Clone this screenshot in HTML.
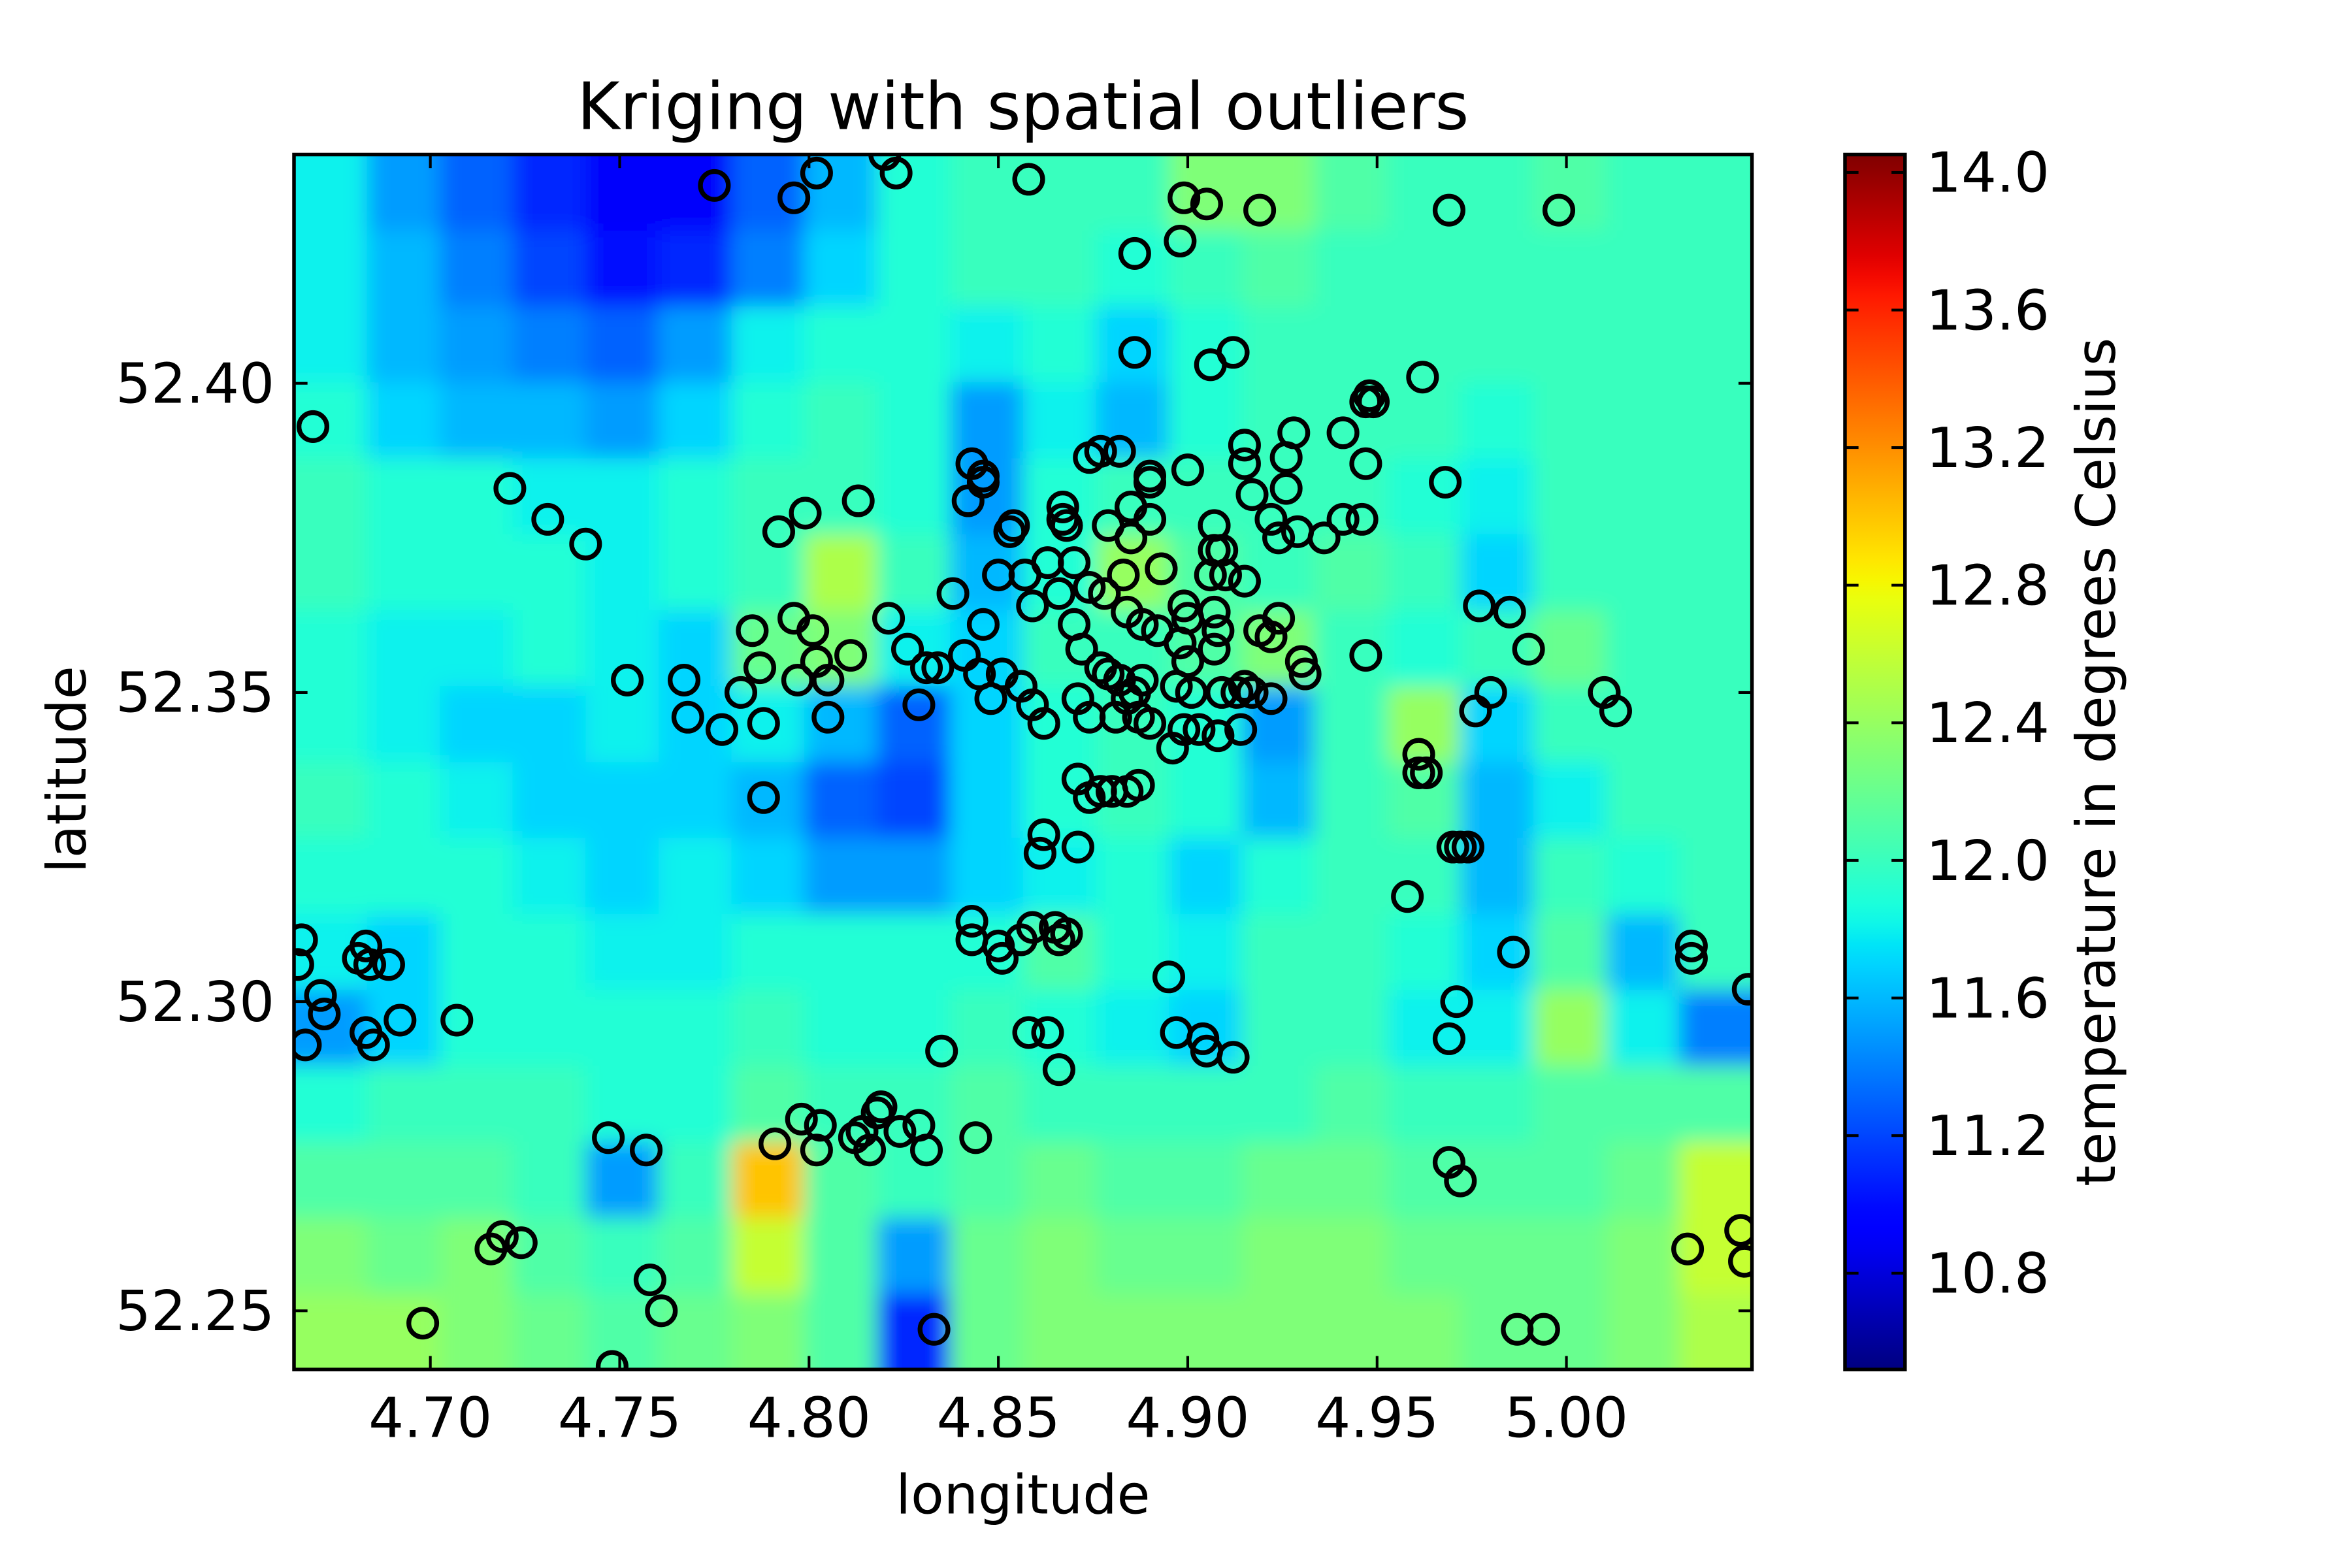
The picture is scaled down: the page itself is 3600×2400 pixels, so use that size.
<!DOCTYPE html>
<html><head><meta charset="utf-8">
<style>
html,body{margin:0;padding:0;background:#fff;}
svg{display:block;font-family:"DejaVu Sans","Liberation Sans",sans-serif;}
</style></head>
<body>
<svg id="chart" width="3600" height="2400" viewBox="0 0 1568 1045.3" xmlns="http://www.w3.org/2000/svg">
<defs>
<clipPath id="plotClip"><rect x="196" y="103" width="972" height="810"/></clipPath>
<filter id="blur" x="-10%" y="-10%" width="120%" height="120%"><feGaussianBlur stdDeviation="7"/></filter>
<linearGradient id="jetGrad" x1="0" y1="1" x2="0" y2="0"></linearGradient>
</defs>
<rect x="0" y="0" width="1568" height="1045.3" fill="#fff"/>
<g id="heat" clip-path="url(#plotClip)"><g id="heatInner" filter="url(#blur)"></g></g>
<g id="points" clip-path="url(#plotClip)"></g>
<rect x="196" y="103" width="972" height="810" fill="none" stroke="#000" stroke-width="2.4"/>
<g id="axes"></g>
<text x="682" y="86" font-size="43.5" text-anchor="middle">Kriging with spatial outliers</text>
<text x="682" y="1009" font-size="36" text-anchor="middle">longitude</text>
<text x="57" y="513" font-size="36" text-anchor="middle" transform="rotate(-90 57 513)">latitude</text>
<rect x="1230" y="103" width="40" height="810" fill="url(#jetGrad)" stroke="#000" stroke-width="2.4"/>
<g id="cbaxis"></g>
<text x="1410" y="508" font-size="36" text-anchor="middle" transform="rotate(-90 1410 508)">temperature in degrees Celsius</text>
</svg>
<script>
const gridVals = [
[11.8,11.5,11.3,11.1,10.9,10.9,11.3,11.6,11.9,12.0,12.0,12.0,12.3,12.3,12.1,12.0,12.0,12.1,12.0,12.0],
[11.8,11.6,11.4,11.2,11.0,11.1,11.4,11.7,11.9,12.0,12.0,11.9,12.0,12.1,12.0,12.0,12.0,12.0,12.0,12.0],
[11.8,11.6,11.5,11.4,11.3,11.5,11.8,11.9,11.9,11.8,11.9,11.7,11.9,12.0,12.0,12.0,12.0,12.0,12.0,12.0],
[11.9,11.7,11.6,11.6,11.5,11.7,11.9,12.0,11.9,11.5,11.8,11.6,11.9,12.0,12.0,12.0,11.9,12.0,12.0,12.0],
[12.0,11.9,11.9,11.8,11.8,11.9,12.0,12.0,11.9,11.5,11.9,12.0,12.0,12.0,12.0,11.9,11.8,12.0,12.0,12.0],
[12.0,11.9,11.9,11.9,11.8,11.9,12.0,12.5,12.0,11.6,11.9,12.4,12.1,12.0,12.1,12.0,11.7,12.0,12.0,12.0],
[11.9,11.8,11.8,11.9,11.8,11.7,12.2,12.3,11.8,11.7,12.0,12.0,12.1,12.3,12.0,11.9,12.0,12.2,12.0,12.0],
[11.9,11.8,11.7,11.7,11.8,11.7,11.8,11.6,11.3,11.7,11.9,12.0,11.9,11.5,12.0,12.4,11.7,12.0,12.0,12.0],
[12.0,11.9,11.8,11.7,11.7,11.7,11.6,11.3,11.2,11.7,11.9,12.0,11.9,11.6,12.0,12.1,11.6,11.8,12.0,12.0],
[11.9,11.9,11.9,11.8,11.7,11.8,11.7,11.5,11.5,11.7,11.8,11.9,11.7,11.9,12.0,12.0,11.6,12.0,11.9,12.0],
[11.8,11.7,11.9,11.9,11.8,11.8,11.9,11.9,11.9,11.9,12.1,11.9,11.8,12.0,12.0,11.9,11.7,12.1,11.6,12.0],
[11.5,11.7,11.9,11.9,11.9,11.9,12.0,11.9,11.9,12.0,11.9,11.8,11.7,12.0,12.0,11.8,11.8,12.4,11.8,11.4],
[11.9,12.0,12.0,12.0,11.9,11.9,12.1,12.0,12.0,12.1,12.0,12.0,12.0,12.0,12.1,12.0,12.0,12.1,12.1,12.1],
[12.1,12.1,12.1,12.0,11.5,12.0,13.0,12.1,12.0,12.1,12.2,12.1,12.1,12.2,12.2,12.1,12.1,12.1,12.2,12.6],
[12.3,12.2,12.3,12.1,12.0,12.1,12.6,12.1,11.5,12.2,12.3,12.2,12.2,12.3,12.3,12.2,12.2,12.2,12.3,12.6],
[12.4,12.4,12.3,12.2,12.1,12.2,12.3,12.1,11.1,12.2,12.3,12.3,12.3,12.3,12.3,12.3,12.2,12.2,12.3,12.5]
];
const lons = [4.775,4.796,4.802,4.820,4.823,4.858,4.899,4.905,4.919,4.969,4.998,4.886,4.898,4.886,4.906,4.912,4.948,4.947,4.949,4.962,4.941,4.669,4.721,4.731,4.741,4.792,4.799,4.813,4.843,4.846,4.846,4.842,4.854,4.853,4.867,4.867,4.868,4.874,4.877,4.882,4.890,4.890,4.900,4.885,4.879,4.885,4.890,4.907,4.907,4.909,4.906,4.893,4.915,4.915,4.917,4.926,4.926,4.928,4.929,4.936,4.941,4.946,4.947,4.968,4.922,4.924,4.838,4.850,4.857,4.859,4.863,4.870,4.866,4.874,4.878,4.883,4.893,4.910,4.915,4.796,4.801,4.785,4.797,4.802,4.805,4.805,4.811,4.821,4.826,4.831,4.829,4.834,4.846,4.841,4.845,4.848,4.851,4.856,4.859,4.862,4.871,4.874,4.881,4.887,4.870,4.872,4.877,4.879,4.882,4.886,4.888,4.884,4.890,4.884,4.888,4.892,4.899,4.900,4.898,4.900,4.897,4.901,4.907,4.908,4.907,4.909,4.913,4.915,4.917,4.919,4.924,4.922,4.930,4.931,4.896,4.899,4.903,4.908,4.914,4.922,4.947,4.961,4.961,4.963,4.976,4.980,4.990,5.010,5.013,4.977,4.985,4.767,4.768,4.752,4.777,4.782,4.787,4.788,4.788,4.871,4.874,4.877,4.880,4.884,4.887,4.862,4.861,4.871,4.970,4.972,4.974,4.958,4.843,4.843,4.850,4.851,4.856,4.859,4.865,4.866,4.868,4.895,4.897,4.904,4.905,4.912,4.835,4.858,4.863,4.866,4.971,4.969,4.986,5.033,5.033,5.048,4.666,4.665,4.681,4.683,4.684,4.689,4.671,4.672,4.667,4.683,4.685,4.692,4.707,4.747,4.757,4.791,4.798,4.803,4.802,4.812,4.814,4.816,4.818,4.819,4.824,4.829,4.831,4.844,4.969,4.972,4.716,4.719,4.724,4.758,4.761,4.698,4.748,4.833,5.032,5.046,5.047,4.987,4.994];
const lats = [52.432,52.430,52.434,52.437,52.434,52.433,52.430,52.429,52.428,52.428,52.428,52.421,52.423,52.405,52.403,52.405,52.398,52.397,52.397,52.401,52.392,52.393,52.383,52.378,52.374,52.376,52.379,52.381,52.387,52.384,52.385,52.381,52.377,52.376,52.380,52.378,52.377,52.388,52.389,52.389,52.385,52.384,52.386,52.380,52.377,52.375,52.378,52.377,52.373,52.373,52.369,52.370,52.390,52.387,52.382,52.388,52.383,52.392,52.376,52.375,52.378,52.378,52.387,52.384,52.378,52.375,52.366,52.369,52.369,52.364,52.371,52.371,52.366,52.367,52.366,52.369,52.370,52.369,52.368,52.362,52.360,52.360,52.352,52.355,52.352,52.346,52.356,52.362,52.357,52.354,52.348,52.354,52.361,52.356,52.353,52.349,52.353,52.351,52.348,52.345,52.349,52.346,52.346,52.346,52.361,52.357,52.354,52.353,52.352,52.350,52.352,52.349,52.345,52.363,52.361,52.360,52.364,52.362,52.358,52.355,52.351,52.350,52.363,52.360,52.357,52.350,52.350,52.351,52.350,52.360,52.362,52.359,52.355,52.353,52.341,52.344,52.344,52.343,52.344,52.349,52.356,52.340,52.337,52.337,52.347,52.350,52.357,52.350,52.347,52.364,52.363,52.352,52.346,52.352,52.344,52.350,52.354,52.345,52.333,52.336,52.333,52.334,52.334,52.334,52.335,52.327,52.324,52.325,52.325,52.325,52.325,52.317,52.313,52.310,52.309,52.307,52.310,52.312,52.312,52.310,52.311,52.304,52.295,52.294,52.292,52.291,52.292,52.295,52.295,52.289,52.300,52.294,52.308,52.309,52.307,52.302,52.310,52.306,52.307,52.309,52.306,52.306,52.301,52.298,52.293,52.295,52.293,52.297,52.297,52.278,52.276,52.277,52.281,52.280,52.276,52.278,52.279,52.276,52.282,52.283,52.279,52.280,52.276,52.278,52.274,52.271,52.260,52.262,52.261,52.255,52.250,52.248,52.241,52.247,52.260,52.263,52.258,52.247,52.247];
const xTicks = [4.70,4.75,4.80,4.85,4.90,4.95,5.00];
const xTickLabels = ["4.70","4.75","4.80","4.85","4.90","4.95","5.00"];
const yTicks = [52.25,52.30,52.35,52.40];
const yTickLabels = ["52.25","52.30","52.35","52.40"];
const cbTicks = [10.8,11.2,11.6,12.0,12.4,12.8,13.2,13.6,14.0];
const cbTickLabels = ["10.8","11.2","11.6","12.0","12.4","12.8","13.2","13.6","14.0"];

const NS="http://www.w3.org/2000/svg";
const PL=196,PR=1168,PT=103,PB=913;
const LON0=4.664,LON1=5.049,LAT0=52.2405,LAT1=52.437;
const VMIN=10.52,VMAX=14.052;
function xScale(v){return PL+(v-LON0)/(LON1-LON0)*(PR-PL);}
function yScale(v){return PB-(v-LAT0)/(LAT1-LAT0)*(PB-PT);}
function cScale(v){return PB-(v-VMIN)/(VMAX-VMIN)*(PB-PT);}
function interp(pts,t){
  for(let i=1;i<pts.length;i++){if(t<=pts[i][0]){const a=pts[i-1],b=pts[i];return a[1]+(b[1]-a[1])*(t-a[0])/(b[0]-a[0]);}}
  return pts[pts.length-1][1];
}
const RS=[[0,0],[0.35,0],[0.66,1],[0.89,1],[1,0.5]];
const GS=[[0,0],[0.125,0],[0.375,1],[0.64,1],[0.91,0],[1,0]];
const BS=[[0,0.5],[0.11,1],[0.34,1],[0.65,0],[1,0]];
function jet(t){
  t=Math.max(0,Math.min(1,t));
  return "rgb("+Math.round(interp(RS,t)*255)+","+Math.round(interp(GS,t)*255)+","+Math.round(interp(BS,t)*255)+")";
}
function colorOf(v){return jet((v-VMIN)/(VMAX-VMIN));}
function mk(tag,attrs,parent){const e=document.createElementNS(NS,tag);for(const k in attrs)e.setAttribute(k,attrs[k]);parent.appendChild(e);return e;}

const hi=document.getElementById('heatInner');
const nr=gridVals.length,nc=gridVals[0].length;
const cw=(PR-PL)/nc,ch=(PB-PT)/nr;
for(let j=0;j<nr;j++){for(let i=0;i<nc;i++){
  let x0=PL+i*cw,x1=x0+cw,y0=PT+j*ch,y1=y0+ch;
  if(i===0)x0-=60; if(i===nc-1)x1+=60; if(j===0)y0-=60; if(j===nr-1)y1+=60;
  const r=mk('rect',{x:x0,y:y0,width:x1-x0+0.6,height:y1-y0+0.6,fill:colorOf(gridVals[j][i])},hi);
  
  
}}

const pg=document.getElementById('points');
for(let k=0;k<lons.length;k++){
  const c=mk('circle',{cx:xScale(lons[k]),cy:yScale(lats[k]),r:9.3,fill:'none',stroke:'#000','stroke-width':3.2},pg);
  
  
}

const ax=document.getElementById('axes');
xTicks.forEach((v,i)=>{
  const x=xScale(v);
  mk('line',{x1:x,x2:x,y1:PB,y2:PB-9,stroke:'#000','stroke-width':1.8},ax);
  mk('line',{x1:x,x2:x,y1:PT,y2:PT+9,stroke:'#000','stroke-width':1.8},ax);
  const t=mk('text',{x:x,y:958,'font-size':37,'text-anchor':'middle'},ax);
  t.textContent=xTickLabels[i];
  
  
});
yTicks.forEach((v,i)=>{
  const y=yScale(v);
  mk('line',{x1:PL,x2:PL+9,y1:y,y2:y,stroke:'#000','stroke-width':1.8},ax);
  mk('line',{x1:PR,x2:PR-9,y1:y,y2:y,stroke:'#000','stroke-width':1.8},ax);
  const t=mk('text',{x:183,y:y+13,'font-size':37,'text-anchor':'end'},ax);
  t.textContent=yTickLabels[i];
  
  
});

const grad=document.getElementById('jetGrad');
for(let s=0;s<=60;s++){const t=s/60;mk('stop',{offset:t,'stop-color':jet(t)},grad);}
const cb=document.getElementById('cbaxis');
cbTicks.forEach((v,i)=>{
  const y=cScale(v);
  mk('line',{x1:1261,x2:1270,y1:y,y2:y,stroke:'#000','stroke-width':1.8},cb);
  mk('line',{x1:1230,x2:1239,y1:y,y2:y,stroke:'#000','stroke-width':1.8},cb);
  const t=mk('text',{x:1284,y:y+13,'font-size':37,'text-anchor':'start'},cb);
  t.textContent=cbTickLabels[i];
  
  
});
</script>
</body></html>
